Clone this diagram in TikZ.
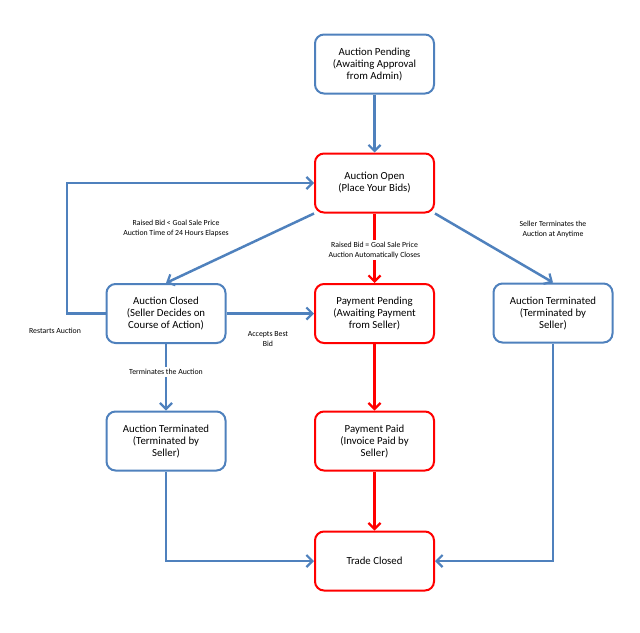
\documentclass[tikz,border=0pt]{standalone}
\usepackage{fontspec}
\setmainfont{Carlito}
\usetikzlibrary{arrows.meta}
\definecolor{oblue}{HTML}{4F81BD}
\definecolor{ored}{HTML}{FF0000}
\begin{document}
\begin{tikzpicture}[x=1pt,y=-1pt,
  box/.style={draw, line width=2pt, rounded corners=9pt, minimum width=119pt, minimum height=59pt, align=center, font=\fontsize{10.8}{12}\selectfont, fill=white},
  bluebox/.style={box, draw=oblue},
  redbox/.style={box, draw=ored},
  conn/.style={line width=2.5pt, -{Straight Barb[length=6pt,width=12pt,line width=2.2pt]}},
  bl/.style={conn, draw=oblue},
  rl/.style={conn, draw=ored},
  lab/.style={font=\fontsize{7.8}{10}\selectfont, align=center, text=black, fill=white, inner sep=2pt}]
\useasboundingbox (0,0) rectangle (640,632);
\node[bluebox] (pend) at (374.5,64) {Auction Pending\\(Awaiting Approval\\from Admin)};
\node[redbox] (open) at (374.5,183) {Auction Open\\(Place Your Bids)};
\node[bluebox] (closed) at (166,313.5) {Auction Closed\\(Seller Decides on\\Course of Action)};
\node[redbox] (paypend) at (374.5,313.5) {Payment Pending\\(Awaiting Payment\\from Seller)};
\node[bluebox] (termr) at (553,313) {Auction Terminated\\(Terminated by\\Seller)};
\node[bluebox] (terml) at (166,441) {Auction Terminated\\(Terminated by\\Seller)};
\node[redbox] (paid) at (374.5,441) {Payment Paid\\(Invoice Paid by\\Seller)};
\node[redbox] (trade) at (374.5,561) {Trade Closed};
\coordinate (rs1) at (67,313.5);
\coordinate (rs2) at (67,183);
\coordinate (tl) at (166,561);
\coordinate (tr) at (553,561);
\draw[bl] (pend) -- (open);
\draw[bl] (open.south west) -- (closed.north);
\draw[bl] (open.south east) -- (termr.north);
\draw[rl] (open) -- (paypend);
\draw[bl] (closed.west) -- (rs1) -- (rs2) -- (open.west);
\draw[bl] (closed) -- (paypend);
\draw[bl] (closed) -- (terml);
\draw[bl] (terml.south) -- (tl) -- (trade.west);
\draw[rl] (paypend) -- (paid);
\draw[rl] (paid) -- (trade);
\draw[bl] (termr.south) -- (tr) -- (trade.east);
\node[lab] (l1) at (176,228) {Raised Bid < Goal Sale Price\\Auction Time of 24 Hours Elapses};
\node[lab] (l2) at (374.5,250) {Raised Bid = Goal Sale Price\\Auction Automatically Closes};
\node[lab] (l3) at (553,229) {Seller Terminates the\\Auction at Anytime};
\node[lab] (l4) at (55,331) {Restarts Auction};
\node[lab] (l5) at (268,339) {Accepts Best\\Bid};
\node[lab] (l6) at (166,372) {Terminates the Auction};
\end{tikzpicture}
\end{document}
